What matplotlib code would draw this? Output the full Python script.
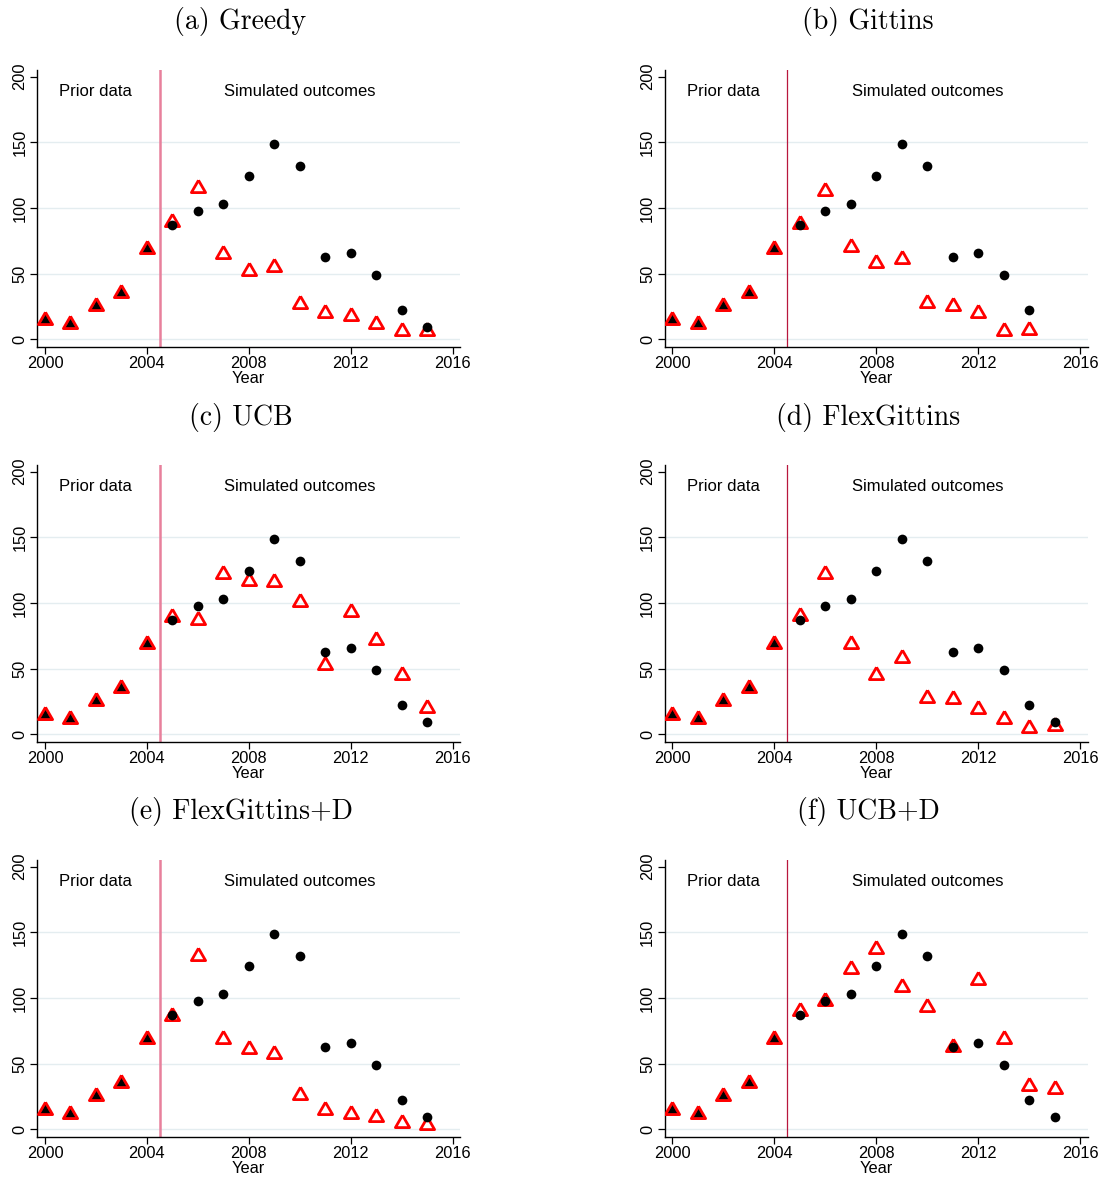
import matplotlib
matplotlib.use("Agg")
import matplotlib.pyplot as plt
import numpy as np

# ---- data -------------------------------------------------------------
years = list(range(2000, 2016))
observed = [15, 12, 25, 35, 69, 87, 98, 103, 124, 149, 132, 63, 66, 49, 22, 9]

greedy = [15, 12, 25, 35, 69, 89, 115, 65, 52, 55, 27, 20, 18, 12, 6, 6]
gittins = [15, 12, 25, 35, 69, 88, 113, 70, 58, 61, 28, 25, 20, 6, 7]
ucb = [15, 12, 25, 35, 69, 89, 87, 122, 117, 116, 101, 53, 93, 72, 45, 20]
flex_gittins = [15, 12, 25, 35, 69, 90, 122, 69, 45, 58, 28, 27, 19, 12, 5, 6]
flex_gittins_d = [15, 12, 25, 35, 69, 86, 132, 69, 61, 57, 26, 15, 12, 9, 5, 3]
ucb_d = [15, 12, 25, 35, 69, 90, 98, 122, 137, 108, 93, 63, 114, 69, 33, 31]

titles = ["(a) Greedy", "(b) Gittins", "(c) UCB",
          "(d) FlexGittins", "(e) FlexGittins+D", "(f) UCB+D"]
simulated = [greedy, gittins, ucb, flex_gittins, flex_gittins_d, ucb_d]

first_sim_year = 2005
cutoff = 2004.5
x_ticks = [2000, 2004, 2008, 2012, 2016]
y_ticks = [0, 50, 100, 150, 200]

# ---- styling ----------------------------------------------------------
W, H = 1104, 1177
DPI = 100
sans = ["Liberation Sans", "DejaVu Sans"]
plt.rcParams["font.family"] = sans

tri = [(0, 1), (-0.866, -0.5), (0.866, -0.5), (0, 1)]
grid_col = "#E4EDF0"
line_cols = ["#E8809C", "#B8173D"]
line_ws = [1.8, 0.9]

fig = plt.figure(figsize=(W / DPI, H / DPI), dpi=DPI)

col_left = [37.3, 664.7]
col_right = [460.0, 1087.7]
row_top = [70.0, 465.0, 860.0]
row_bot = [346.7, 741.7, 1136.7]
title_x = [240.5, 868.0]
title_y = [22.0, 417.0, 812.0]

for i, (ttl, sim) in enumerate(zip(titles, simulated)):
    r, c = divmod(i, 2)
    l, rgt = col_left[c], col_right[c]
    t, b = row_top[r], row_bot[r]
    ax = fig.add_axes([l / W, 1 - b / H, (rgt - l) / W, (b - t) / H])

    n = len(sim)
    yrs = np.array(years[:n])
    obs = np.array(observed[:n])
    sv = np.array(sim)
    prior = yrs < first_sim_year

    for g in [0, 50, 100, 150]:
        ax.axhline(g, color=grid_col, lw=1.0, zorder=0)

    ax.axvline(cutoff, color=line_cols[c], lw=line_ws[c], zorder=1)

    # observed values in the prior period (filled triangles)
    ax.plot(yrs[prior], obs[prior], ls="none", marker=tri, ms=8.5,
            mfc="black", mec="black", mew=0.5, zorder=2)
    # simulated outcomes (hollow red triangles)
    ax.plot(yrs, sv, ls="none", marker=tri, ms=11.8, mfc="none",
            mec="red", mew=2.0, zorder=3)
    # observed values after the cutoff (black dots)
    ax.plot(yrs[~prior], obs[~prior], ls="none", marker="o", ms=7.0,
            mfc="black", mec="black", mew=0, zorder=4)

    ax.set_xlim(1999.70, 2016.29)
    ax.set_ylim(-5.64, 205.1)
    ax.set_xticks(x_ticks)
    ax.set_yticks(y_ticks)
    ax.tick_params(axis="both", direction="out", length=5, width=0.9,
                   labelsize=11.8, pad=2, color="black")
    for lab in ax.get_yticklabels():
        lab.set_rotation(90)
        lab.set_va("center")
    ax.set_xlabel("Year", fontsize=11.8, labelpad=0)

    for s in ["top", "right"]:
        ax.spines[s].set_visible(False)
    for s in ["left", "bottom"]:
        ax.spines[s].set_linewidth(1.0)
        ax.spines[s].set_color("black")

    ax.text(2002.0, 189.0, "Prior data", ha="center", va="center",
            fontsize=12)
    ax.text(2010.0, 189.0, "Simulated outcomes", ha="center", va="center",
            fontsize=12)

    fig.text(title_x[c] / W, 1 - title_y[r] / H, ttl, ha="center",
             va="center", fontsize=20, family="cmr10")

fig.savefig("out.png", dpi=DPI, facecolor="white")
